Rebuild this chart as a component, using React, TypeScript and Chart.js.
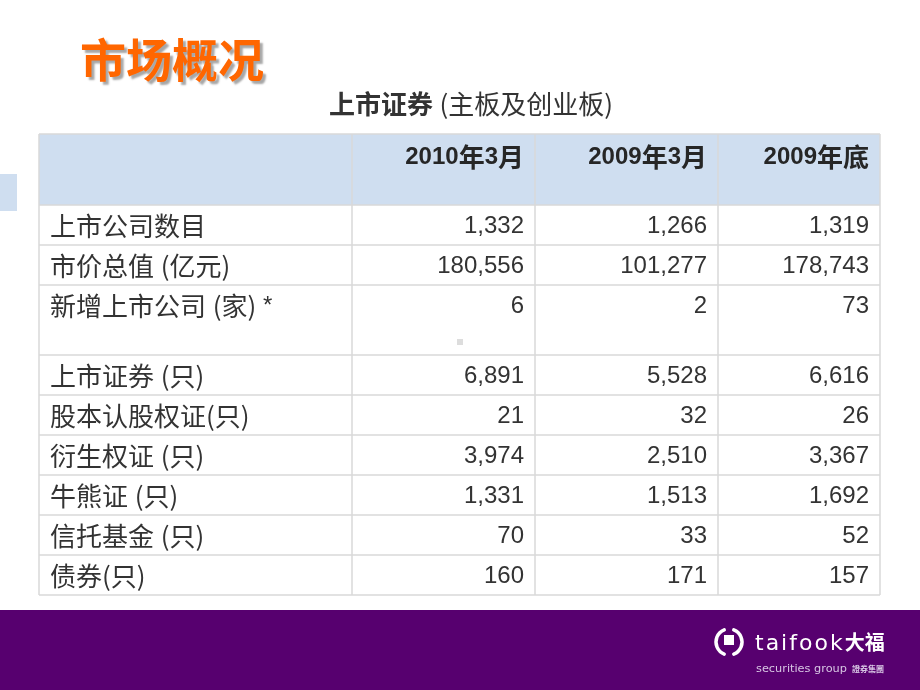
import React, { useEffect, useRef } from 'react';
import { Chart, registerables } from 'chart.js';

Chart.register(...registerables);

// ---- data ----
const pageTitle = '市场概况';
const tableTitleBold = '上市证券';
const tableTitleRest = ' (主板及创业板)';
const columnHeaders = ['', '2010年3月', '2009年3月', '2009年底'];
const rowLabels = [
  '上市公司数目',
  '市价总值 (亿元)',
  '新增上市公司 (家) *',
  '上市证券 (只)',
  '股本认股权证(只)',
  '衍生权证 (只)',
  '牛熊证 (只)',
  '信托基金 (只)',
  '债券(只)',
];
const values2010Mar = [1332, 180556, 6, 6891, 21, 3974, 1331, 70, 160];
const values2009Mar = [1266, 101277, 2, 5528, 32, 2510, 1513, 33, 171];
const values2009End = [1319, 178743, 73, 6616, 26, 3367, 1692, 52, 157];

// ---- layout (relative units mapped through the chart's scales) ----
const COL_WIDTHS = [313, 183, 183, 162];
const ROW_HEIGHTS = [71, 40, 40, 70, 40, 40, 40, 40, 40, 40]; // header + rows

const LATIN = "'Liberation Sans', Arial, sans-serif";
const CJK = "'Noto Sans CJK SC', sans-serif";
const TEXT_COLOR = '#333333';
const GRID_COLOR = '#d9d9d9';
const HEADER_FILL = '#cfdef0';
const PURPLE = '#57006f';

const cumulative = (arr: number[]) => {
  const out = [0];
  arr.forEach((v) => out.push(out[out.length - 1] + v));
  return out;
};

const fmt = (v: number) => v.toLocaleString('en-US');

const CJK_RE = /[\u2E80-\u9FFF\uF900-\uFAFF\uFF00-\uFFEF\u3000-\u303F()]/;

function splitRuns(text: string) {
  const runs: { t: string; cjk: boolean }[] = [];
  for (const ch of text) {
    const cjk = CJK_RE.test(ch);
    const last = runs[runs.length - 1];
    if (last && last.cjk === cjk) last.t += ch;
    else runs.push({ t: ch, cjk });
  }
  return runs;
}

function measureMixed(
  ctx: CanvasRenderingContext2D,
  text: string,
  weight: string,
  latinSize: number,
  cjkSize: number
) {
  let total = 0;
  splitRuns(text).forEach((r) => {
    ctx.font = r.cjk ? `${weight} ${cjkSize}px ${CJK}` : `${weight} ${latinSize}px ${LATIN}`;
    total += ctx.measureText(r.t).width;
  });
  return total;
}

function drawMixed(
  ctx: CanvasRenderingContext2D,
  text: string,
  x: number,
  y: number,
  align: 'left' | 'right' | 'center',
  weight: string,
  latinSize: number,
  cjkSize: number
) {
  const runs = splitRuns(text);
  const fontFor = (cjk: boolean) =>
    cjk ? `${weight} ${cjkSize}px ${CJK}` : `${weight} ${latinSize}px ${LATIN}`;
  let total = 0;
  const widths = runs.map((r) => {
    ctx.font = fontFor(r.cjk);
    const w = ctx.measureText(r.t).width;
    total += w;
    return w;
  });
  let cx = align === 'left' ? x : align === 'right' ? x - total : x - total / 2;
  ctx.textAlign = 'left';
  runs.forEach((r, i) => {
    ctx.font = fontFor(r.cjk);
    ctx.fillText(r.t, cx, y);
    cx += widths[i];
  });
  return total;
}

const tablePlugin = {
  id: 'tablePlugin',
  afterDraw(chart: any) {
    const { ctx, scales } = chart;
    const xs = scales.x;
    const ys = scales.y;
    const colEdges = cumulative(COL_WIDTHS).map((v) => xs.getPixelForValue(v));
    const rowEdges = cumulative(ROW_HEIGHTS).map((v) => ys.getPixelForValue(v));
    const left = colEdges[0];
    const right = colEdges[colEdges.length - 1];
    const top = rowEdges[0];
    const bottom = rowEdges[rowEdges.length - 1];

    ctx.save();
    // header fill
    ctx.fillStyle = HEADER_FILL;
    ctx.fillRect(left, top, right - left, rowEdges[1] - top);

    // grid lines
    ctx.strokeStyle = GRID_COLOR;
    ctx.lineWidth = 1.5;
    ctx.beginPath();
    rowEdges.forEach((yy: number) => {
      ctx.moveTo(left, yy);
      ctx.lineTo(right, yy);
    });
    colEdges.forEach((xx: number) => {
      ctx.moveTo(xx, top);
      ctx.lineTo(xx, bottom);
    });
    ctx.stroke();

    ctx.textBaseline = 'middle';
    // header text
    ctx.fillStyle = '#262626';
    columnHeaders.forEach((h, i) => {
      if (!h) return;
      drawMixed(ctx, h, colEdges[i + 1] - 11, rowEdges[0] + 23, 'right', 'bold', 24, 26);
    });

    // body text
    const series = [values2010Mar, values2009Mar, values2009End];
    ctx.fillStyle = TEXT_COLOR;
    rowLabels.forEach((label, r) => {
      const yTop = rowEdges[r + 1];
      const yy = yTop + 21;
      drawMixed(ctx, label, left + 11, yy, 'left', 'normal', 24, 26);
      series.forEach((s, c) => {
        drawMixed(ctx, fmt(s[r]), colEdges[c + 2] - 11, yy, 'right', 'normal', 24, 26);
      });
    });

    // stray mark in the slide
    ctx.fillStyle = '#dddddd';
    ctx.fillRect(457, 339, 6, 6);

    // left decoration
    ctx.fillStyle = HEADER_FILL;
    ctx.fillRect(0, 174, 17, 37);

    // page title with shadow
    ctx.textAlign = 'left';
    ctx.textBaseline = 'middle';
    ctx.font = `bold 46px ${CJK}`;
    ctx.shadowColor = 'rgba(0,0,0,0.35)';
    ctx.shadowOffsetX = 3;
    ctx.shadowOffsetY = 3;
    ctx.shadowBlur = 2;
    ctx.fillStyle = '#ff6600';
    ctx.fillText(pageTitle, 80, 60);
    ctx.shadowColor = 'transparent';
    ctx.shadowOffsetX = 0;
    ctx.shadowOffsetY = 0;
    ctx.shadowBlur = 0;

    // table title
    ctx.fillStyle = '#333333';
    const wb = measureMixed(ctx, tableTitleBold, 'bold', 24, 26);
    const wr = measureMixed(ctx, tableTitleRest, 'normal', 24, 26);
    const startX = 471 - (wb + wr) / 2;
    drawMixed(ctx, tableTitleBold, startX, 104, 'left', 'bold', 24, 26);
    drawMixed(ctx, tableTitleRest, startX + wb, 104, 'left', 'normal', 24, 26);

    // footer band
    ctx.fillStyle = PURPLE;
    ctx.fillRect(0, 610, 920, 80);

    // logo symbol
    ctx.strokeStyle = '#ffffff';
    ctx.lineWidth = 3.5;
    ctx.lineCap = 'round';
    ctx.beginPath();
    ctx.arc(729, 642, 13, Math.PI * 0.62, Math.PI * 1.38);
    ctx.stroke();
    ctx.beginPath();
    ctx.arc(729, 642, 13, -Math.PI * 0.38, Math.PI * 0.38);
    ctx.stroke();
    ctx.fillStyle = '#ffffff';
    ctx.fillRect(724, 635, 10, 10);

    // logo text
    ctx.textBaseline = 'alphabetic';
    ctx.font = `22px 'DejaVu Sans', sans-serif`;
    (ctx as any).letterSpacing = '2px';
    ctx.fillText('taifook', 755, 650);
    const wt = ctx.measureText('taifook').width;
    (ctx as any).letterSpacing = '0px';
    ctx.font = `bold 20px 'Noto Sans CJK TC', sans-serif`;
    ctx.fillText('大福', 755 + wt, 650);

    ctx.fillStyle = '#d8c6e4';
    ctx.font = `13px 'DejaVu Sans', sans-serif`;
    const wsRaw = ctx.measureText('securities group').width;
    const secSize = (13 * 91) / wsRaw;
    ctx.font = `${secSize}px 'DejaVu Sans', sans-serif`;
    ctx.fillText('securities group', 756, 672);
    ctx.font = `bold 8px 'Noto Sans CJK TC', sans-serif`;
    ctx.fillText('證券集團', 852, 672);

    ctx.restore();
  },
};

export default function App() {
  const canvasRef = useRef<HTMLCanvasElement | null>(null);

  useEffect(() => {
    const canvas = canvasRef.current;
    if (!canvas) return;
    const totalW = COL_WIDTHS.reduce((a, b) => a + b, 0);
    const totalH = ROW_HEIGHTS.reduce((a, b) => a + b, 0);
    const chart = new Chart(canvas, {
      type: 'scatter',
      data: { datasets: [] },
      options: {
        responsive: false,
        maintainAspectRatio: false,
        devicePixelRatio: 1,
        animation: false,
        layout: { padding: { left: 39, top: 134, right: 40, bottom: 95 } },
        plugins: {
          legend: { display: false },
          tooltip: { enabled: false },
          title: { display: false },
        },
        scales: {
          x: { type: 'linear', display: false, min: 0, max: totalW },
          y: { type: 'linear', display: false, min: 0, max: totalH, reverse: true },
        },
      },
      plugins: [tablePlugin],
    });
    return () => chart.destroy();
  }, []);

  return (
    <div style={{ position: 'absolute', left: 0, top: 0, width: 920, height: 690, background: '#ffffff' }}>
      <canvas ref={canvasRef} width={920} height={690} style={{ display: 'block' }} />
    </div>
  );
}
